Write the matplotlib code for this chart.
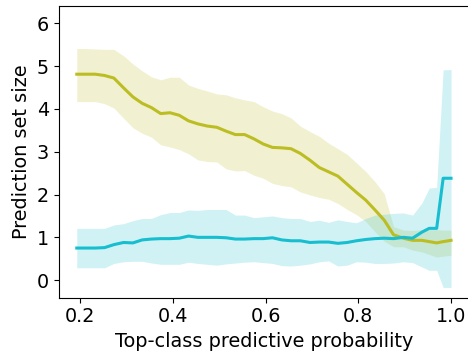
import matplotlib
matplotlib.use("Agg")
import matplotlib.pyplot as plt

# Top-class predictive probability (bin positions)
x = [0.193, 0.213, 0.233, 0.253, 0.273, 0.294, 0.314, 0.334, 0.354, 0.374,
     0.394, 0.414, 0.434, 0.454, 0.474, 0.495, 0.515, 0.535, 0.555, 0.575,
     0.595, 0.615, 0.635, 0.655, 0.675, 0.696, 0.716, 0.736, 0.756, 0.776,
     0.796, 0.816, 0.836, 0.856, 0.876, 0.897, 0.917, 0.937, 0.953, 0.969,
     0.983, 1.000]

# Olive series (mean and band)
olive_mean = [4.81, 4.81, 4.81, 4.78, 4.72, 4.49, 4.28, 4.13, 4.03, 3.89,
              3.91, 3.85, 3.72, 3.65, 3.60, 3.57, 3.48, 3.40, 3.40, 3.30,
              3.18, 3.10, 3.09, 3.07, 2.96, 2.80, 2.63, 2.53, 2.43, 2.24,
              2.05, 1.87, 1.64, 1.40, 1.06, 0.98, 0.93, 0.93, 0.90, 0.87,
              0.90, 0.93]
olive_upper = [5.41, 5.41, 5.40, 5.39, 5.39, 5.24, 5.05, 4.89, 4.75, 4.68,
               4.74, 4.74, 4.56, 4.48, 4.42, 4.35, 4.33, 4.26, 4.21, 4.17,
               4.05, 3.95, 3.89, 3.79, 3.60, 3.47, 3.36, 3.20, 3.07, 2.94,
               2.74, 2.54, 2.30, 2.02, 1.25, 1.17, 1.16, 1.18, 1.18, 1.18,
               1.17, 1.17]
olive_lower = [4.17, 4.17, 4.17, 4.12, 4.02, 3.78, 3.56, 3.43, 3.34, 3.16,
               3.11, 3.05, 2.95, 2.81, 2.77, 2.76, 2.60, 2.55, 2.56, 2.45,
               2.38, 2.26, 2.21, 2.18, 2.06, 1.99, 1.93, 1.89, 1.79, 1.65,
               1.53, 1.37, 1.13, 0.91, 0.78, 0.78, 0.70, 0.66, 0.60, 0.54,
               0.56, 0.58]

# Cyan series (mean and band)
cyan_mean = [0.75, 0.75, 0.75, 0.76, 0.83, 0.88, 0.87, 0.94, 0.96, 0.97,
             0.97, 0.98, 1.03, 1.00, 1.00, 1.00, 0.99, 0.96, 0.96, 0.97,
             0.97, 0.99, 0.94, 0.92, 0.92, 0.88, 0.89, 0.89, 0.86, 0.88,
             0.92, 0.95, 0.97, 0.98, 0.97, 1.00, 0.98, 1.12, 1.21, 1.21,
             2.38, 2.38]
cyan_upper = [1.21, 1.21, 1.21, 1.21, 1.29, 1.32, 1.39, 1.44, 1.44, 1.53,
              1.58, 1.58, 1.64, 1.63, 1.65, 1.65, 1.65, 1.52, 1.52, 1.46,
              1.48, 1.50, 1.46, 1.44, 1.44, 1.37, 1.40, 1.35, 1.41, 1.37,
              1.34, 1.44, 1.52, 1.54, 1.56, 1.57, 1.52, 1.80, 2.15, 2.17,
              4.91, 4.92]
cyan_lower = [0.29, 0.29, 0.29, 0.29, 0.39, 0.43, 0.44, 0.44, 0.40, 0.37,
              0.37, 0.37, 0.42, 0.39, 0.37, 0.35, 0.38, 0.40, 0.42, 0.43,
              0.41, 0.39, 0.34, 0.33, 0.35, 0.38, 0.43, 0.45, 0.33, 0.35,
              0.43, 0.42, 0.39, 0.39, 0.40, 0.43, 0.41, 0.31, 0.23, 0.23,
              -0.17, -0.17]

x_ticks = [0.2, 0.4, 0.6, 0.8, 1.0]
y_ticks = [0, 1, 2, 3, 4, 5, 6]

OLIVE = "#bcbd22"
CYAN = "#17becf"

fig = plt.figure(figsize=(4.68, 3.6), dpi=100)
ax = fig.add_axes([0.1254, 0.173, 0.8780, 0.810])

ax.fill_between(x, olive_lower, olive_upper, color=OLIVE, alpha=0.2, linewidth=0)
ax.fill_between(x, cyan_lower, cyan_upper, color=CYAN, alpha=0.2, linewidth=0)
ax.plot(x, olive_mean, color=OLIVE, linewidth=2.2)
ax.plot(x, cyan_mean, color=CYAN, linewidth=2.2)

ax.set_xlim(0.154, 1.04)
ax.set_ylim(-0.41, 6.40)
ax.set_xticks(x_ticks)
ax.set_yticks(y_ticks)
ax.tick_params(labelsize=13.8)
ax.set_xlabel("Top-class predictive probability", fontsize=13.9)
ax.set_ylabel("Prediction set size", fontsize=13.9)

fig.savefig("out.png", dpi=100)
